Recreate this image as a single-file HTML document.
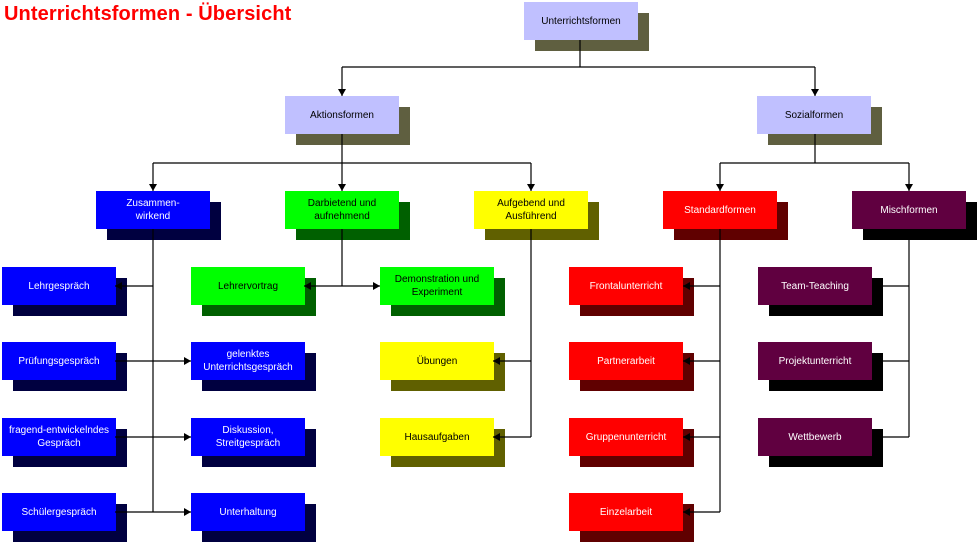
<!DOCTYPE html>
<html><head><meta charset="utf-8"><style>
body{margin:0;width:979px;height:543px;background:#fff;position:relative;overflow:hidden;font-family:"Liberation Sans",sans-serif}
.b{position:absolute;width:114px;height:38px;display:flex;align-items:center;justify-content:center;text-align:center;font-size:10px;line-height:13px}
.s{position:absolute;width:114px;height:38px}
h1{position:absolute;left:4px;top:3px;margin:0;font-size:20px;color:#f00;font-weight:bold;letter-spacing:0.1px}
svg{position:absolute;left:0;top:0}
</style></head><body>
<h1>Unterrichtsformen - Übersicht</h1>
<div id="c"></div>
<script>
const B=[
[524,2,'Unterrichtsformen','#c0c0ff','#5f5f40','#000'],
[285,96,'Aktionsformen','#c0c0ff','#5f5f40','#000'],
[757,96,'Sozialformen','#c0c0ff','#5f5f40','#000'],
[96,191,'Zusammen-<br>wirkend','#0000ff','#000040','#fff'],
[285,191,'Darbietend und<br>aufnehmend','#00ff00','#006000','#000'],
[474,191,'Aufgebend und<br>Ausführend','#ffff00','#606000','#000'],
[663,191,'Standardformen','#ff0000','#600000','#fff'],
[852,191,'Mischformen','#600040','#000','#fff'],
[2,267,'Lehrgespräch','#0000ff','#000040','#fff'],
[2,342,'Prüfungsgespräch','#0000ff','#000040','#fff'],
[2,418,'fragend-entwickelndes<br>Gespräch','#0000ff','#000040','#fff'],
[2,493,'Schülergespräch','#0000ff','#000040','#fff'],
[191,267,'Lehrervortrag','#00ff00','#006000','#000'],
[191,342,'gelenktes<br>Unterrichtsgespräch','#0000ff','#000040','#fff'],
[191,418,'Diskussion,<br>Streitgespräch','#0000ff','#000040','#fff'],
[191,493,'Unterhaltung','#0000ff','#000040','#fff'],
[380,267,'Demonstration und<br>Experiment','#00ff00','#006000','#000'],
[380,342,'Übungen','#ffff00','#606000','#000'],
[380,418,'Hausaufgaben','#ffff00','#606000','#000'],
[569,267,'Frontalunterricht','#ff0000','#600000','#fff'],
[569,342,'Partnerarbeit','#ff0000','#600000','#fff'],
[569,418,'Gruppenunterricht','#ff0000','#600000','#fff'],
[569,493,'Einzelarbeit','#ff0000','#600000','#fff'],
[758,267,'Team-Teaching','#600040','#000','#fff'],
[758,342,'Projektunterricht','#600040','#000','#fff'],
[758,418,'Wettbewerb','#600040','#000','#fff']];
let h='';
for(const [x,y,t,c,s,f] of B)h+=`<div class="s" style="left:${x+11}px;top:${y+11}px;background:${s}"></div>`;
for(const [x,y,t,c,s,f] of B)h+=`<div class="b" style="left:${x}px;top:${y}px;background:${c};color:${f}">${t}</div>`;
const L=[[580,40,580,67],[342,67,815,67],[342,67,342,96],[815,67,815,96],
[342,134,342,163],[153,163,531,163],[153,163,153,191],[342,163,342,191],[531,163,531,191],
[815,134,815,163],[720,163,909,163],[720,163,720,191],[909,163,909,191],
[153,229,153,512],[115,286,153,286],[115,361,191,361],[115,437,191,437],[115,512,191,512],
[342,229,342,286],[304,286,380,286],
[531,229,531,437],[493,361,531,361],[493,437,531,437],
[720,229,720,512],[683,286,720,286],[683,361,720,361],[683,437,720,437],[683,512,720,512],
[909,229,909,437],[872,286,909,286],[872,361,909,361],[872,437,909,437]];
let s='<svg width="979" height="543">';
for(const [a,b,c,d] of L)s+=`<line x1="${a}" y1="${b}" x2="${c}" y2="${d}" stroke="#000" stroke-width="1.2"/>`;
const D=[[342,96],[815,96],[153,191],[342,191],[531,191],[720,191],[909,191]];
for(const [x,y] of D)s+=`<polygon points="${x-4},${y-7} ${x+4},${y-7} ${x},${y}" fill="#000"/>`;
const R=[[191,361],[191,437],[191,512],[380,286]];
for(const [x,y] of R)s+=`<polygon points="${x-7},${y-4} ${x-7},${y+4} ${x},${y}" fill="#000"/>`;
const Lf=[[115,286],[304,286],[493,361],[493,437],[683,286],[683,361],[683,437],[683,512]];
for(const [x,y] of Lf)s+=`<polygon points="${x+7},${y-4} ${x+7},${y+4} ${x},${y}" fill="#000"/>`;
s+='</svg>';
document.getElementById('c').innerHTML=h+s;
</script>
</body></html>
